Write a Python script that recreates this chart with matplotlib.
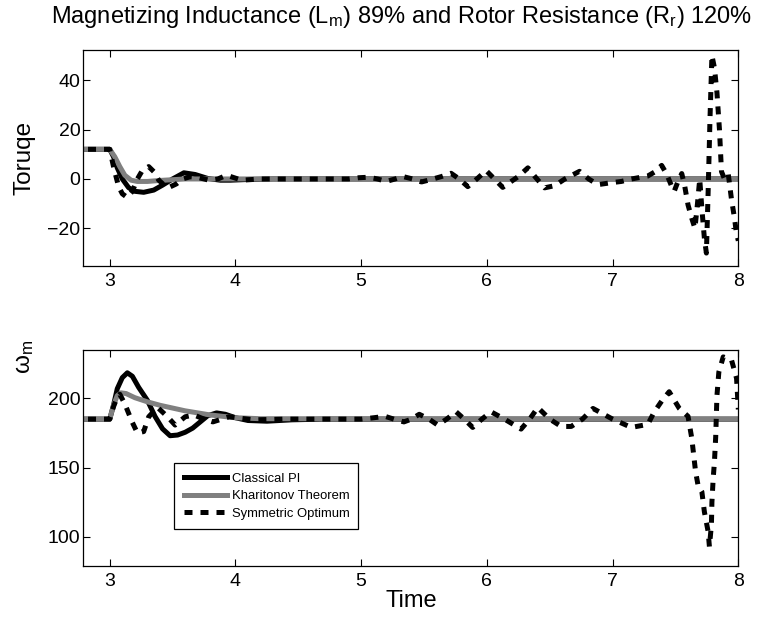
import matplotlib
matplotlib.use('Agg')
import matplotlib.pyplot as plt

plt.rcParams['font.family'] = ['Liberation Sans', 'DejaVu Sans']
plt.rcParams['mathtext.fontset'] = 'custom'
plt.rcParams['mathtext.rm'] = 'Liberation Sans'
plt.rcParams['mathtext.default'] = 'regular'

# torque, classical PI
t_tq_pi = [2.70, 3.00, 3.03, 3.06, 3.10, 3.15, 3.20, 3.27, 3.35, 3.42,
           3.50, 3.59, 3.68, 3.78, 3.88, 3.96, 4.10, 4.30, 8.00]
tq_pi = [12, 12, 9, 4.5, 0, -3.5, -5, -5.4, -4.5, -2.5,
         0, 2.5, 1.8, 0.2, -0.5, -0.5, -0.2, 0, 0]

# torque, Kharitonov
t_tq_kh = [2.70, 3.00, 3.04, 3.08, 3.12, 3.17, 3.22, 3.30, 3.40, 3.60, 8.00]
tq_kh = [12, 12, 9, 5, 1.5, -0.5, -1.0, -1.0, -0.6, 0, 0]

# torque, symmetric optimum
t_tq_so = [2.70, 3.00, 3.03, 3.07, 3.10, 3.14, 3.18, 3.22, 3.26, 3.31,
           3.35, 3.39, 3.44, 3.48, 3.53, 3.58, 3.64, 3.71, 3.79, 3.86,
           3.93, 3.99, 4.05, 4.20, 4.90, 4.98, 5.06, 5.13, 5.20, 5.27,
           5.33, 5.41, 5.48, 5.55, 5.64, 5.715, 5.78, 5.848, 5.92, 5.994,
           6.06, 6.126, 6.25, 6.326, 6.39, 6.459, 6.54, 6.62, 6.737, 6.81,
           6.883, 6.99, 7.07, 7.15, 7.28, 7.34, 7.39, 7.43, 7.47, 7.49,
           7.52, 7.55, 7.574, 7.60, 7.63, 7.655, 7.675, 7.693, 7.71, 7.73,
           7.746, 7.76, 7.775, 7.79, 7.81, 7.83, 7.85, 7.866, 7.89, 7.92,
           7.945, 7.97, 7.985, 8.00]
tq_so = [12, 12, 5, -3, -6, -7.5, -5, 0, 3.5, 5,
         3, -0.5, -2.8, -3.2, -2, 0, 0.9, 0.5, -0.5, 0,
         1.5, 0.5, -0.5, 0, 0, 0.5, 0.7, 0, -1, 0,
         1, 0, -1.2, -0.3, 1, 2.3, 0, -3.1, 0, 3.4,
         0, -3.4, 1, 4.5, 0.5, -3.6, -2.7, 0, 3.1, 0,
         -2.3, -1.5, -1, 0, 1.2, 3, 5.5, 2, -3, -5,
         -1, 2.2, -3, -10.5, -16, -20, -10, 0, -12, -24,
         -30, -5, 25, 50, 45, 35, 20, 3, 0, 2,
         -8, -16, -22, -25]

# speed, classical PI
t_w_pi = [2.70, 3.00, 3.03, 3.06, 3.10, 3.14, 3.18, 3.23, 3.30, 3.36,
          3.42, 3.48, 3.54, 3.60, 3.66, 3.72, 3.78, 3.85, 3.92, 4.00,
          4.10, 4.25, 4.45, 4.70, 8.00]
w_pi = [185, 185, 195, 207, 215, 218.5, 216, 208, 198.5, 187,
        178, 173, 173.5, 175.5, 178.5, 183, 187.5, 189.5, 188.5, 186,
        184, 183.5, 184.5, 185, 185]

# speed, Kharitonov
t_w_kh = [2.70, 3.00, 3.03, 3.06, 3.09, 3.13, 3.20, 3.30, 3.40, 3.50,
          3.60, 3.70, 3.80, 3.90, 4.00, 4.20, 8.00]
w_kh = [185, 185, 195, 202, 204, 203.5, 200.5, 197.5, 195, 193,
        191, 189.5, 188, 187, 186, 185.3, 185]

# speed, symmetric optimum
t_w_so = [2.70, 3.00, 3.03, 3.06, 3.08, 3.12, 3.18, 3.22, 3.27, 3.31,
          3.38, 3.46, 3.52, 3.60, 3.67, 3.75, 3.82, 3.95, 4.05, 4.15,
          4.40, 5.00, 5.10, 5.19, 5.26, 5.34, 5.40, 5.462, 5.54, 5.609,
          5.68, 5.755, 5.82, 5.887, 5.96, 6.033, 6.14, 6.272, 6.34, 6.405,
          6.50, 6.591, 6.671, 6.76, 6.844, 7.00, 7.149, 7.28, 7.33, 7.39,
          7.45, 7.53, 7.60, 7.63, 7.66, 7.68, 7.71, 7.73, 7.76, 7.77,
          7.786, 7.79, 7.80, 7.81, 7.82, 7.83, 7.845, 7.88, 7.946, 7.986,
          8.00]
w_so = [185, 185, 194, 201, 203, 196, 182.6, 175, 176, 186.7,
        193.5, 186.7, 180.7, 186.7, 188, 185, 183, 186.7, 185.5, 184.5,
        185, 185, 186, 187, 185, 183, 185, 188.5, 185, 180.7,
        185, 190.3, 185, 179, 185, 190.3, 185, 177.8, 185, 193.4,
        185, 179.7, 179.7, 185, 192.7, 185, 179, 181.2, 190, 198,
        204.8, 192.8, 187, 171, 147, 137, 132.5, 118, 103.6, 92.8,
        108.5, 125, 142, 154, 172, 202, 219, 230, 227.7, 214.5,
        192]

labels = ['Classical PI', 'Kharitonov Theorem', 'Symmetric Optimum']

fig = plt.figure(figsize=(7.61, 6.19), dpi=100)
ax1 = fig.add_axes([0.1095, 0.570, 0.8607, 0.350])
ax2 = fig.add_axes([0.1095, 0.0861, 0.8607, 0.3485])

dash = (0, (1.6, 1.6))
for ax, tp, yp, tk, yk, ts, ys in [(ax1, t_tq_pi, tq_pi, t_tq_kh, tq_kh, t_tq_so, tq_so),
                                   (ax2, t_w_pi, w_pi, t_w_kh, w_kh, t_w_so, w_so)]:
    ax.plot(tp, yp, color='black', lw=3.6, label=labels[0])
    ax.plot(tk, yk, color='0.5', lw=3.6, label=labels[1])
    ax.plot(ts, ys, color='black', lw=3.6, ls=dash, dash_capstyle='butt', label=labels[2])
    ax.set_xlim(2.79, 8.0)
    ax.set_xticks([3, 4, 5, 6, 7, 8])
    ax.tick_params(direction='in', top=True, right=True, length=5, width=0.8, labelsize=14)
    ax.tick_params(axis='x', pad=5)
    ax.tick_params(axis='y', pad=2)
    for s in ax.spines.values():
        s.set_linewidth(0.9)

ax1.set_ylim(-35.3, 52.4)
ax1.set_yticks([-20, 0, 20, 40])
ax1.set_yticklabels(['\u221220', '0', '20', '40'])
ax1.set_ylabel('Toruqe', fontsize=17.5)
ax1.yaxis.set_label_coords(-0.073, 0.5)

ax2.set_ylim(79, 235)
ax2.set_yticks([100, 150, 200])
ax2.set_ylabel('\u03c9$_m$', fontsize=17.5)
ax2.yaxis.set_label_coords(-0.073, 0.968)
ax2.set_xlabel('Time', fontsize=17, labelpad=0)

leg = ax2.legend(loc='upper left', bbox_to_anchor=(0.139, 0.475), fontsize=9.4,
                 fancybox=False, framealpha=1, edgecolor='black',
                 handlelength=3.3, handletextpad=0.38, borderpad=0.7,
                 labelspacing=0.42, borderaxespad=0)
leg.get_frame().set_linewidth(0.9)

fig.text(0.528, 0.963, 'Magnetizing Inductance (L$_m$) 89% and Rotor Resistance (R$_r$) 120%',
         ha='center', va='baseline', fontsize=17)

fig.savefig('out.png', dpi=100)
